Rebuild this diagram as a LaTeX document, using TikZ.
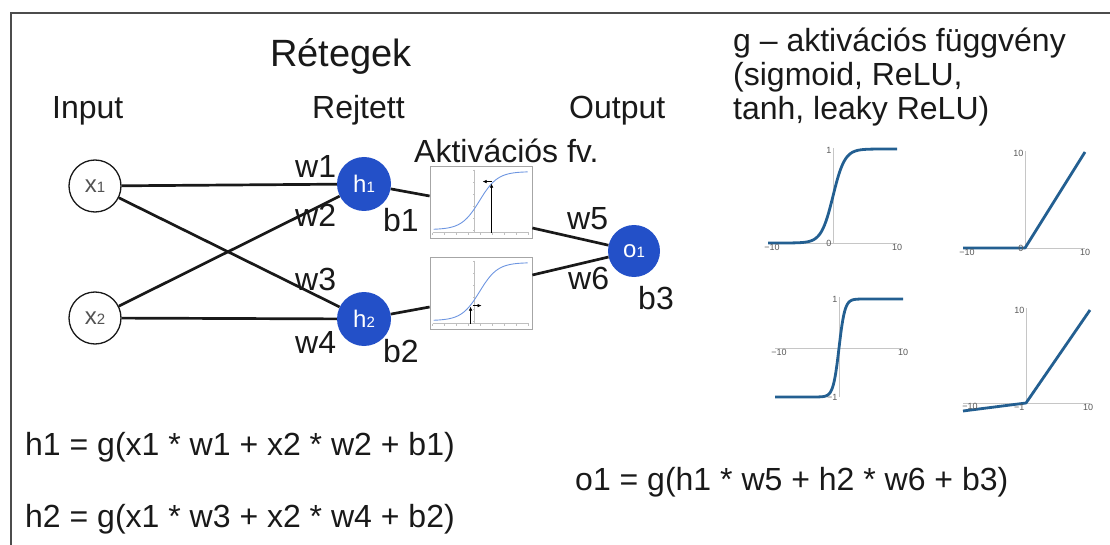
\documentclass[tikz,border=0pt]{standalone}
\usepackage{fontspec}
\setmainfont{Liberation Sans}
\usetikzlibrary{arrows.meta}

\definecolor{nodeblue}{RGB}{35,80,200}
\definecolor{curveblue}{RGB}{35,95,145}
\definecolor{sigblue}{RGB}{110,150,225}
\definecolor{ink}{RGB}{25,25,25}

\tikzset{
  big/.style={font=\fontsize{32}{38}\selectfont,text=ink,inner sep=0pt},
  title/.style={font=\fontsize{38}{44}\selectfont,text=ink,inner sep=0pt},
  inneuron/.style={circle,draw=ink,line width=1.3pt,minimum size=52pt,inner sep=0pt,
    font=\fontsize{24}{24}\selectfont,text=ink!75},
  hidneuron/.style={circle,fill=nodeblue,minimum size=54pt,inner sep=0pt,
    font=\fontsize{24}{24}\selectfont,text=white},
  edge/.style={draw=ink,line width=2.7pt},
  actbox/.style={draw=gray!70,line width=0.8pt,minimum width=102pt,minimum height=72pt,inner sep=0pt},
  axisline/.style={draw=gray!45,line width=0.9pt},
  curve/.style={draw=curveblue,line width=2.8pt,line join=round},
  ticklbl/.style={font=\fontsize{9}{9}\selectfont,text=gray!70!black,inner sep=1.5pt},
}
\newcommand{\sml}[1]{{\fontsize{15}{15}\selectfont #1}}

\begin{document}
\begin{tikzpicture}[x=1pt,y=-1pt]
\useasboundingbox (0,0) rectangle (1110,545);

% Slide edge
\draw[gray!60!black,line width=1.2pt] (11,545) -- (11,13) -- (1110,13);

% Headings
\node[title,anchor=base] (reteg) at (341,67) {Rétegek};
\node[big,anchor=base west] (input) at (52,119) {Input};
\node[big,anchor=base west] (rejt) at (312,119) {Rejtett};
\node[big,anchor=base west] (outp) at (569,119) {Output};
\node[big,anchor=base west] (aktfv) at (414,163) {Aktivációs fv.};

% -------- Network --------
\node[inneuron] (x1) at (95,186) {x\sml{1}};
\node[inneuron] (x2) at (95,318) {x\sml{2}};
\node[hidneuron] (h1) at (364,184) {h\sml{1}};
\node[hidneuron] (h2) at (364,319) {h\sml{2}};
\node[hidneuron,minimum size=52pt] (o1) at (634,251) {o\sml{1}};

\node[actbox] (act1) at (481,202) {};
\node[actbox] (act2) at (481,293) {};

\draw[edge] (x1) -- (h1);
\draw[edge] (x1) -- (h2);
\draw[edge] (x2) -- (h1);
\draw[edge] (x2) -- (h2);
\draw[edge] (h1) -- ([yshift=6pt]act1.west);
\draw[edge] (h2) -- ([yshift=-14pt]act2.west);
\draw[edge] ([yshift=-26pt]act1.east) -- (o1);
\draw[edge] ([yshift=18pt]act2.east) -- (o1);

% weights and biases
\node[big,anchor=base west] (lw1) at (295,178) {w1};
\node[big,anchor=base west] (lw2) at (295,227) {w2};
\node[big,anchor=base west] (lw3) at (295,290) {w3};
\node[big,anchor=base west] (lw4) at (295,353) {w4};
\node[big,anchor=base west] (lb1) at (383,232) {b1};
\node[big,anchor=base west] (lb2) at (383,362) {b2};
\node[big,anchor=base west] (lw5) at (567,230) {w5};
\node[big,anchor=base west] (lw6) at (568,289) {w6};
\node[big,anchor=base west] (lb3) at (638,309) {b3};

% -------- Small sigmoid plots in the boxes --------
\foreach \b in {act1,act2}{
  \begin{scope}[shift={(\b.north west)}]
    \draw[gray!50,line width=0.5pt] (3,67) -- (99,67);
    \foreach \t in {3,15,...,99} \draw[gray!50,line width=0.4pt] (\t,67) -- (\t,69);
    \draw[gray!50,line width=0.5pt] (45,4) -- (45,67);
    \foreach \t in {5,17,...,65} \draw[gray!50,line width=0.4pt] (45,\t) -- (43,\t);
    \draw[sigblue,line width=0.9pt,domain=4:98,samples=60]
      plot (\x,{64-58/(1+exp(-(\x-50)/9))});
  \end{scope}
}
\begin{scope}[shift={(act1.north west)}]
  \draw[line width=0.6pt,-{Latex[length=4pt,width=3.5pt]}] (62,67) -- (62,18);
  \draw[line width=0.6pt,-{Latex[length=4pt,width=3.5pt]}] (62,16) -- (53,16);
\end{scope}
\begin{scope}[shift={(act2.north west)}]
  \draw[line width=0.6pt,-{Latex[length=4pt,width=3.5pt]}] (41,67) -- (41,50);
  \draw[line width=0.6pt,-{Latex[length=4pt,width=3.5pt]}] (43,49) -- (52,49);
\end{scope}

% -------- g: activation functions --------
\node[big,anchor=base west] (g1) at (733,52) {g – aktivációs függvény};
\node[big,anchor=base west] (g2) at (733,86) {(sigmoid, ReLU,};
\node[big,anchor=base west] (g3) at (733,120) {tanh, leaky ReLU)};

% sigmoid
\draw[axisline] (768,243) -- (897,243);
\draw[axisline] (833,148) -- (833,243);
\draw[curve] (768,243) -- plot[domain=-7:7,samples=70] ({833+6.45*\x},{243-94/(1+exp(-1.1*\x))}) -- (897,149);
\node[ticklbl,left] at (833,150) {1};
\node[ticklbl,left] at (833,243) {0};
\node[ticklbl,below] at (772,243) {−10};
\node[ticklbl,below] at (897,243) {10};

% ReLU
\draw[axisline] (963,248) -- (1085,248);
\draw[axisline] (1025,151) -- (1025,248);
\draw[curve] (963,248) -- (1025,248) -- (1085,152);
\node[ticklbl,left] at (1025,153) {10};
\node[ticklbl,left] at (1025,248) {0};
\node[ticklbl,below] at (967,248) {−10};
\node[ticklbl,below] at (1085,248) {10};

% tanh
\draw[axisline] (775,348) -- (903,348);
\draw[axisline] (839,297) -- (839,397);
\draw[curve] (775,397) -- plot[domain=-4:4,samples=60] ({839+6.4*\x},{348-49*tanh(1.1*\x)}) -- (903,299);
\node[ticklbl,left] at (839,299) {1};
\node[ticklbl,left] at (839,397) {−1};
\node[ticklbl,below] at (779,348) {−10};
\node[ticklbl,below] at (903,348) {10};

% leaky ReLU
\draw[axisline] (963,403) -- (1090,403);
\draw[axisline] (1026,308) -- (1026,403);
\draw[curve] (963,411) -- (1026,403) -- (1090,310);
\node[ticklbl,left] at (1026,310) {10};
\node[ticklbl,below left] at (1026,403) {−1};
\node[ticklbl,below] at (970,402) {−10};
\node[ticklbl,below] at (1088,403) {10};

% -------- Equations --------
\node[big,anchor=base west] (eqh1) at (25,455) {h1 = g(x1 * w1 + x2 * w2 + b1)};
\node[big,anchor=base west] (eqh2) at (25,527) {h2 = g(x1 * w3 + x2 * w4 + b2)};
\node[big,anchor=base west] (eqo1) at (575,490) {o1 = g(h1 * w5 + h2 * w6 + b3)};

\end{tikzpicture}
\end{document}
